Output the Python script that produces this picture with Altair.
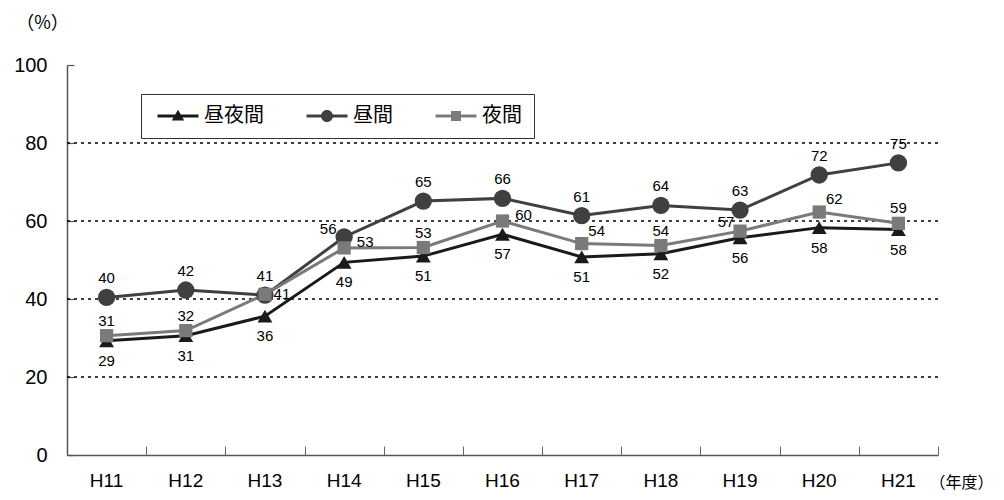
import altair as alt
import pandas as pd

years = ["H11", "H12", "H13", "H14", "H15", "H16", "H17", "H18", "H19", "H20", "H21"]
series_names = ["昼夜間", "昼間", "夜間"]
day_night = [29.3, 30.6, 35.6, 49.4, 51.0, 56.6, 50.8, 51.6, 55.7, 58.3, 57.8]
day = [40.4, 42.3, 41.0, 55.9, 65.1, 65.8, 61.4, 64.0, 62.8, 71.8, 74.9]
night = [30.6, 31.9, 41.2, 53.1, 53.2, 60.0, 54.2, 53.7, 57.4, 62.3, 59.4]
grid_values = [20, 40, 60, 80]
y_ticks = [0, 20, 40, 60, 80, 100]

colors = ["#1a1a1a", "#404040", "#7a7a7a"]
shapes = ["triangle-up", "circle", "square"]
sizes = [220, 300, 175]
legend_paths = [
    "M-2.05,-0.14H2.05V0.14H-2.05Z M0,-0.62L0.62,0.46H-0.62Z",
    "M-2.05,-0.14H2.05V0.14H-2.05Z M0.6,0A0.6,0.6 0 1,1 -0.6,0A0.6,0.6 0 1,1 0.6,0Z",
    "M-2.05,-0.14H2.05V0.14H-2.05Z M-0.5,-0.5H0.5V0.5H-0.5Z",
]

rows = []
for s, vals in zip(series_names, [day_night, day, night]):
    for yr, v in zip(years, vals):
        rows.append({"year": yr, "series": s, "value": v})
df = pd.DataFrame(rows)

W, H = 871, 390
NUM_FONT = "Liberation Sans"
CJK_FONT = "Noto Sans CJK JP"

x_scale = alt.Scale(type="band", domain=years, paddingInner=0, paddingOuter=0)
y_scale = alt.Scale(domain=[0, 100], nice=False)

x_main_axis = alt.Axis(
    orient="bottom", ticks=False, tickSize=0, domain=True, domainColor="#555555",
    domainWidth=1.5, grid=False, labelAngle=0, labelFont=NUM_FONT, labelFontSize=19,
    labelColor="black", labelPadding=16, labelBaseline="top",
    title="（年度）", titleFont=CJK_FONT, titleFontSize=16, titleFontWeight="normal",
    titleAngle=0, titleX=894, titleY=27, titleAlign="center", titleBaseline="middle",
    titleColor="black",
)
y_main_axis = alt.Axis(
    orient="left", values=y_ticks, ticks=False, tickSize=0, domain=True,
    domainColor="#555555", domainWidth=1.5, grid=False, labelFont=NUM_FONT,
    labelFontSize=20, labelColor="black", labelPadding=20,
    title="（%）", titleFont=CJK_FONT, titleFontSize=18, titleFontWeight="normal",
    titleAngle=0, titleX=-25, titleY=-42, titleAlign="center", titleBaseline="middle",
    titleColor="black",
)
x_tick_axis = alt.Axis(
    orient="top", offset=-H, labels=False, domain=False, ticks=True, tickSize=9,
    tickColor="#666666", tickWidth=1, tickBand="extent", grid=False, title=None,
)
y_tick_axis = alt.Axis(
    orient="right", offset=-W, labels=False, domain=False, ticks=True, tickSize=7,
    tickColor="#555555", tickWidth=1.2, values=y_ticks, grid=False, title=None,
)

base = alt.Chart(df)

# gridlines
grid = alt.Chart(pd.DataFrame({"g": grid_values})).mark_rule(
    color="black", strokeWidth=1.4, strokeDash=[3, 4]
).encode(y=alt.Y("g:Q", scale=y_scale, axis=None))

# axes carrier layers
axes_main = base.mark_line(opacity=0).encode(
    x=alt.X("year:N", scale=x_scale, axis=x_main_axis, bandPosition=0.5),
    y=alt.Y("value:Q", scale=y_scale, axis=y_main_axis),
    detail="series:N",
)
axes_ticks = base.mark_line(opacity=0).encode(
    x=alt.X("year:N", scale=x_scale, axis=x_tick_axis, bandPosition=0.5),
    y=alt.Y("value:Q", scale=y_scale, axis=y_tick_axis),
    detail="series:N",
)

layers = [grid, axes_main, axes_ticks]

X = alt.X("year:N", scale=x_scale, axis=None, bandPosition=0.5)
Y = alt.Y("value:Q", scale=y_scale, axis=None)

for s, c in zip(series_names, colors):
    layers.append(
        base.transform_filter(alt.datum.series == s)
        .mark_line(color=c, strokeWidth=3)
        .encode(x=X, y=Y)
    )
for s, c, sh, sz in zip(series_names, colors, shapes, sizes):
    layers.append(
        base.transform_filter(alt.datum.series == s)
        .mark_point(shape=sh, filled=True, size=sz, color=c, opacity=1)
        .encode(x=X, y=Y)
    )

# data labels: (series, years, dx, dy)
label_rules = [
    ("昼夜間", years, 0, 20),
    ("昼間", [y for y in years if y != "H14"], 0, -19),
    ("昼間", ["H14"], -16, -8),
    ("夜間", ["H11", "H12", "H15", "H18", "H21"], 0, -15),
    ("夜間", ["H13"], 17, 0),
    ("夜間", ["H14", "H16"], 21, -6),
    ("夜間", ["H17", "H20"], 15, -13),
    ("夜間", ["H19"], -14, -9),
]
for s, yl, dx, dy in label_rules:
    layers.append(
        base.transform_filter(alt.datum.series == s)
        .transform_filter(alt.FieldOneOfPredicate(field="year", oneOf=yl))
        .mark_text(dx=dx, dy=dy, font=NUM_FONT, fontSize=15, color="black",
                   align="center", baseline="middle")
        .encode(x=X, y=Y, text=alt.Text("value:Q", format=".0f"))
    )

# legend carrier (no visible marks)
legend_spec = alt.Legend(
    title="\u3000", titleOrient="left", titleFont=CJK_FONT, titleFontSize=10,
    titlePadding=15, labelExpr="datum.label + '\u2002'",
)
legend_layer = base.transform_filter("false").mark_point(filled=True, size=400, opacity=1).encode(
    color=alt.Color("series:N", scale=alt.Scale(domain=series_names, range=colors),
                    legend=legend_spec),
    shape=alt.Shape("series:N", scale=alt.Scale(domain=series_names, range=legend_paths),
                    legend=legend_spec),
)
layers.append(legend_layer)

chart = alt.layer(*layers).resolve_axis(x="independent", y="independent").properties(
    width=W, height=H,
    autosize=alt.AutoSizeParams(type="none"),
    padding={"left": 59, "top": 57, "right": 58, "bottom": 37},
    background="white",
).configure_view(stroke=None).configure_legend(
    orient="none", legendX=74, legendY=29, direction="horizontal",
    strokeColor="#333333", fillColor="white", padding=12, symbolSize=400,
    symbolStrokeWidth=0, labelFont=CJK_FONT, labelFontSize=20, labelColor="black",
    labelOffset=16, columnPadding=42,
)

chart.save("out.html", embed_options={"renderer": "svg", "actions": False})
